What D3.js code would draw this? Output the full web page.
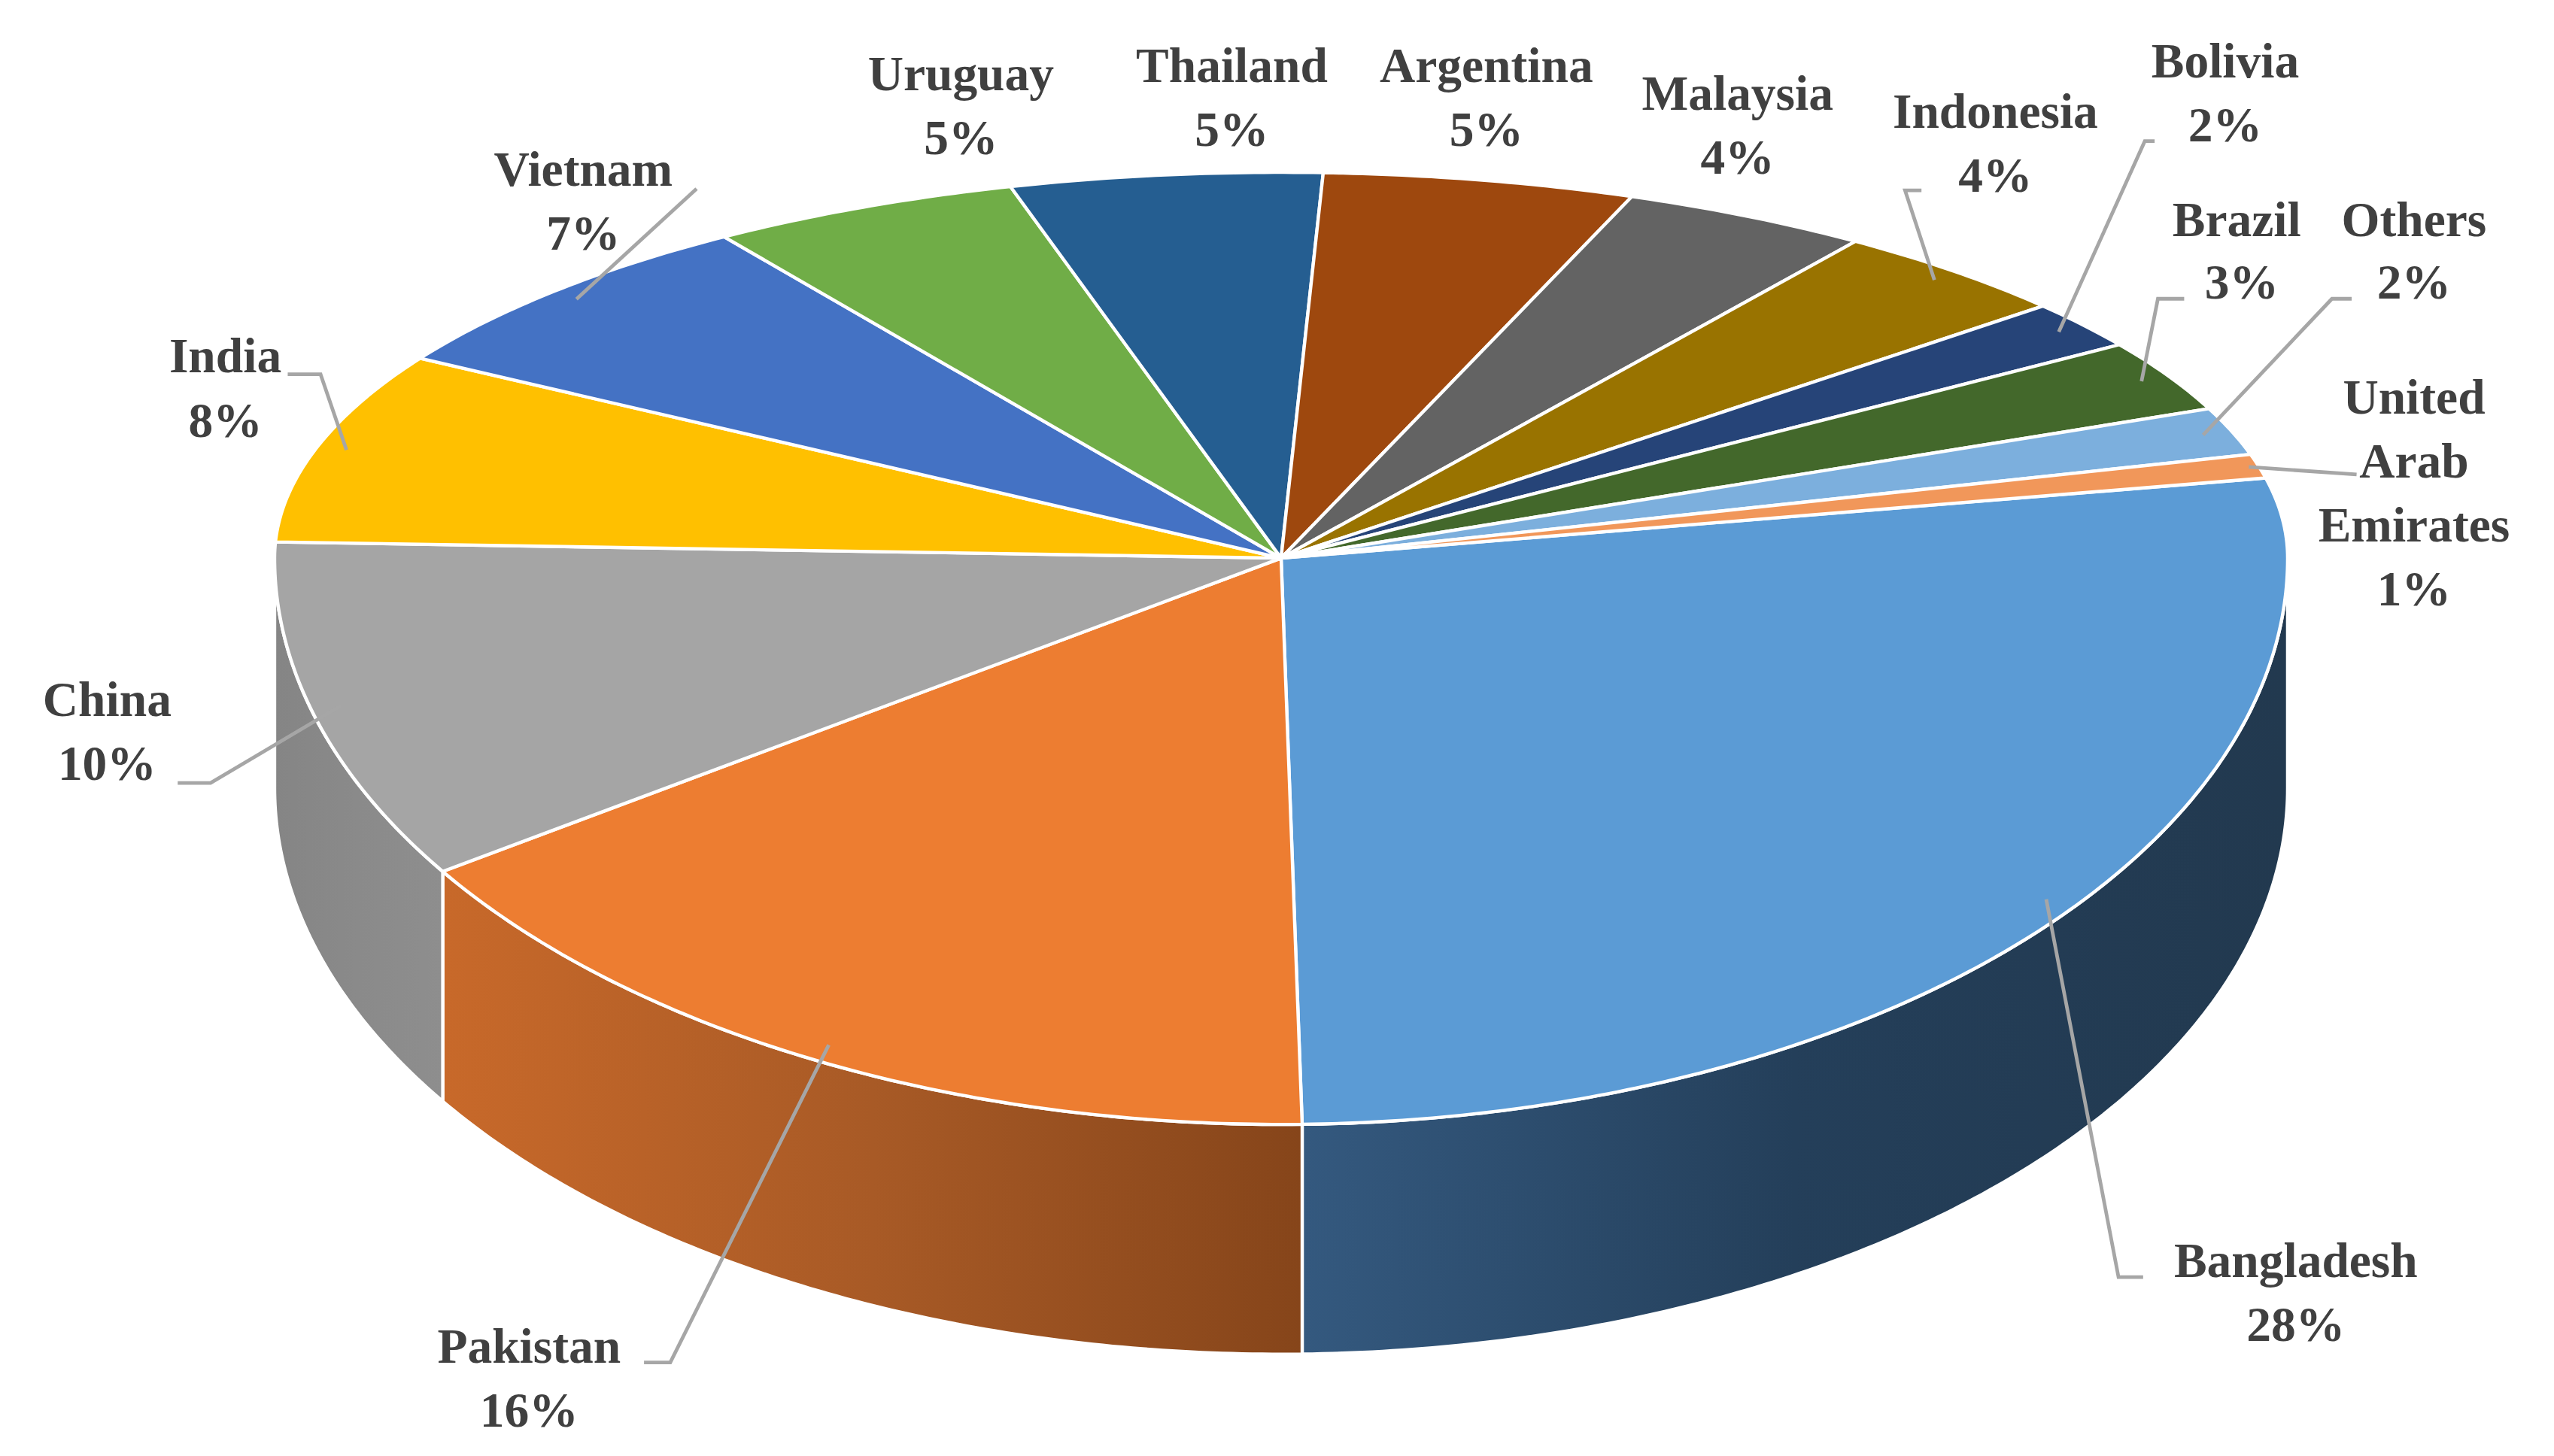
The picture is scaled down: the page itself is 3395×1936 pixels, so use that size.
<!DOCTYPE html>
<html>
<head>
<meta charset="utf-8">
<script src="https://cdn.jsdelivr.net/npm/d3@7"></script>
<style>
  html, body { margin: 0; padding: 0; background: #fff; }
  svg { display: block; }
</style>
</head>
<body>
<svg id="chart"></svg>
<script>
// data, clockwise from the right-hand edge
const countries = ["Bangladesh", "Pakistan", "China", "India", "Vietnam", "Uruguay", "Thailand",
  "Argentina", "Malaysia", "Indonesia", "Bolivia", "Brazil", "Others", "United Arab Emirates"];
const shares = [28, 16, 10, 8, 7, 5, 5, 5, 4, 4, 2, 3, 2, 1];
const colors = ["#5b9bd5", "#ed7d31", "#a5a5a5", "#ffc000", "#4472c4", "#70ad47", "#255e91",
  "#9e480e", "#636363", "#997300", "#264478", "#43682b", "#7cafdd", "#f1975a"];

// label layout (display units, viewBox 1555 x 887)
const labelPos = [[1398, 778], [322, 830], [65, 436], [137, 227], [355, 113], [585, 55], [750, 50],
  [905, 50], [1058, 67], [1215, 78], [1355, 47], [1362, 144], [1470, 144], [1470, 252]];
const leaderPts = [
  [[1305, 778], [1290, 778]], [[392, 830], [408, 830]], [[108, 477], [128, 477]],
  [[175, 228], [195, 228]], [[424, 115], [424, 115]], null, null, null, null,
  [[1170, 116], [1160, 116]], [[1312, 86], [1306, 86]], [[1330, 182], [1314, 182]],
  [[1432, 182], [1420, 182]], [[1435, 289], [1435, 289]]];
const leaderR = [0.97, 0.97, 0.97, 0.97, 0.97, 0, 0, 0, 0, 0.97, 0.97, 0.97, 0.97, 0.99];

const W = 1555, H = 887;
const svg = d3.select("#chart")
  .attr("width", 3395).attr("height", 1936)
  .attr("viewBox", `0 0 ${W} ${H}`);

const cx = 780, cy = 340, rx = 613, ryTop = 235, ryBot = 345, depth = 140;
const startAngle = 78 * Math.PI / 180;

// projected point of a tilted pie, angle clockwise from top
function proj(t, r = 1, dy = 0) {
  const c = Math.cos(t);
  return [cx + rx * r * Math.sin(t), cy - (c > 0 ? ryTop : ryBot) * r * c + dy];
}

const total = d3.sum(shares);
const angle = d3.scaleLinear().domain([0, total]).range([startAngle, startAngle + 2 * Math.PI]);
const cum = d3.cumsum(shares);
const slices = shares.map((v, i) => ({
  i, name: countries[i], value: v,
  a0: angle(cum[i] - v), a1: angle(cum[i])
}));

function arcPts(a0, a1, dy = 0) {
  const n = Math.max(2, Math.ceil((a1 - a0) / 0.01));
  return d3.range(n + 1).map(k => proj(a0 + (a1 - a0) * k / n, 1, dy));
}
const line = d3.line();

const defs = svg.append("defs");
const sideFill = [
  ["#34597f", "#243f5a", "#22394f"],
  ["#c8692a", "#a85a26", "#86451a"],
  ["#8e8e8e", "#8a8a8a", "#858585"]
];

// side walls, visible between 90 and 270 degrees
slices.forEach(s => {
  const lo = Math.max(s.a0, Math.PI / 2), hi = Math.min(s.a1, 3 * Math.PI / 2);
  if (hi <= lo) return;
  const top = arcPts(lo, hi), bottom = arcPts(lo, hi, depth).reverse();
  const xs = top.map(p => p[0]);
  const g = defs.append("linearGradient").attr("id", "side" + s.i)
    .attr("gradientUnits", "userSpaceOnUse")
    .attr("x1", d3.max(xs)).attr("x2", d3.min(xs)).attr("y1", 0).attr("y2", 0);
  const stops = sideFill[s.i] || [d3.color(colors[s.i]).darker(0.6), d3.color(colors[s.i]).darker(0.6), d3.color(colors[s.i]).darker(0.8)];
  if (s.i === 0) { g.attr("x1", d3.min(xs)).attr("x2", d3.max(xs)); }
  if (s.i === 1) { g.attr("x1", d3.min(xs)).attr("x2", d3.max(xs)); }
  stops.forEach((c, k) => g.append("stop").attr("offset", k / 2).attr("stop-color", c));
  svg.append("path")
    .attr("d", line(top.concat(bottom)) + "Z")
    .attr("fill", `url(#side${s.i})`)
    .attr("stroke", "#fff").attr("stroke-width", 2).attr("stroke-linejoin", "round");
});

// top faces
svg.append("g").selectAll("path").data(slices).join("path")
  .attr("d", s => line([[cx, cy]].concat(arcPts(s.a0, s.a1))) + "Z")
  .attr("fill", s => colors[s.i])
  .attr("stroke", "#fff").attr("stroke-width", 2).attr("stroke-linejoin", "round");

// leader lines
slices.forEach(s => {
  const pts = leaderPts[s.i];
  if (!pts) return;
  const end = proj((s.a0 + s.a1) / 2, leaderR[s.i]);
  svg.append("path")
    .attr("d", line(pts.concat([end])))
    .attr("fill", "none").attr("stroke", "#a6a6a6").attr("stroke-width", 2.2);
});

// labels
const font = "'Liberation Serif', 'Times New Roman', serif";
function label(x, y, lines) {
  const t = svg.append("text")
    .attr("x", x).attr("y", y)
    .attr("text-anchor", "middle")
    .attr("font-family", font).attr("font-weight", "bold")
    .attr("font-size", 30).attr("fill", "#404040");
  lines.forEach((l, k) => t.append("tspan").attr("x", x).attr("dy", k ? 39 : 0).text(l));
}
slices.forEach(s => {
  const [x, y] = labelPos[s.i];
  const pct = s.value + "%";
  if (s.name === "United Arab Emirates") label(x, y, ["United", "Arab", "Emirates", pct]);
  else if (s.name === "Brazil" || s.name === "Others") {
    label(x, y, [s.name]);
    label(x + (s.name === "Brazil" ? 3 : 0), y + 38, [pct]);
  }
  else label(x, y, [s.name, pct]);
});
</script>
</body>
</html>
